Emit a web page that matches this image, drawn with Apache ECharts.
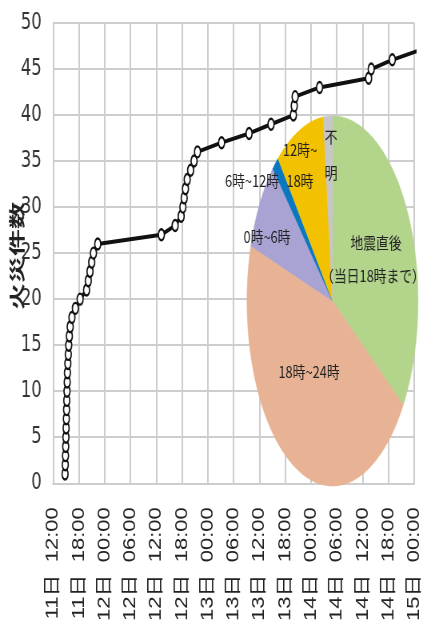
<!DOCTYPE html>
<html>
<head>
<meta charset="utf-8">
<script src="https://cdn.jsdelivr.net/npm/echarts@6/dist/echarts.min.js"></script>
<style>
html,body{margin:0;padding:0;background:#fff;overflow:hidden;}
#main{position:absolute;left:0;top:0;width:529px;height:624px;transform:scaleX(0.7996);transform-origin:0 0;}
</style>
</head>
<body>
<div id="main"></div>
<script>
// ---- data ----
// time of each fire, hours counted from 11日 00:00
const fireHours = [14.8,14.85,14.9,14.95,15.0,15.05,15.1,15.15,15.2,15.25,15.3,15.35,15.45,15.55,15.65,15.8,16.0,16.4,17.2,18.3,
  19.8,20.2,20.6,21.0,21.4,22.4,37.2,40.4,41.8,42.2,42.5,42.8,43.2,44.0,44.8,45.6,51.2,57.6,62.7,67.9,68.1,68.3,74.0,85.4,86.0,90.9,97.0];
// cumulative number of fires
const fireCounts = [1,2,3,4,5,6,7,8,9,10,11,12,13,14,15,16,17,18,19,20,21,22,23,24,25,26,27,28,29,30,31,32,33,34,35,36,37,38,39,40,41,42,43,44,45,46,47];
const xTickLabels = ['11日  12:00','11日  18:00','12日  00:00','12日  06:00','12日  12:00','12日  18:00','13日  00:00','13日  06:00',
  '13日  12:00','13日  18:00','14日  00:00','14日  06:00','14日  12:00','14日  18:00','15日  00:00'];
const yAxisTitle = '火災件数';
// pie: share of fires by time band (clockwise from top)
const pieNames = ['地震直後（当日18時まで）','18時~24時','0時~6時','6時~12時','12時~18時','不明'];
const pieValues = [34.5, 45.3, 7.9, 1.3, 9.3, 1.7];
const pieColors = ['#b2d48b','#e8b394','#a9a3d4','#0a78c0','#f2c200','#c6c6c6'];
const pieLabelTexts = ['地震直後','（当日18時まで）','18時~24時','0時~6時','6時~12時','12時~','18時','不\n明'];

// ---- layout ----
const S = 0.7996;                 // horizontal squeeze of the whole picture
const X = px => px / S;           // screen x -> local x
const PCX = X(332.5), PCY = 301, PRX = 85.5 / S, PRY = 185;
const labelPos = [[376,243],[373,276],[309,372],[267,237],[252,181],[300,150],[300,181],[331,155]];

const pieTotal = pieValues.reduce((a, b) => a + b, 0);
const pieCum = [];
pieValues.reduce((acc, v) => { pieCum.push(acc); return acc + v; }, 0);

const chart = echarts.init(document.getElementById('main'), null, {renderer: 'canvas'});
const gridColor = '#cdcdcd';

const graphics = pieLabelTexts.map((t, i) => ({
  type: 'text', z: 100, x: X(labelPos[i][0]), y: labelPos[i][1],
  style: {text: t, fill: '#222', font: '16px "Noto Sans CJK JP"', align: 'center', verticalAlign: 'middle', lineHeight: 36}
}));
graphics.push({
  type: 'text', z: 100, x: X(17), y: 256, rotation: Math.PI / 2, scaleY: 0.75,
  style: {text: yAxisTitle, fill: '#222', font: 'bold 27px "Noto Sans CJK JP"', align: 'center', verticalAlign: 'middle'}
});

chart.setOption({
  backgroundColor: '#fff',
  animation: false,
  grid: {left: X(53), right: 529 - X(419), top: 23, bottom: 624 - 487, containLabel: false},
  xAxis: {
    type: 'value', min: 12, max: 96, interval: 6,
    axisLine: {show: true, lineStyle: {color: gridColor, width: 2}},
    axisTick: {show: false},
    splitLine: {show: true, lineStyle: {color: gridColor, width: 2}},
    axisLabel: {
      rotate: 90, margin: 24, color: '#222', fontSize: 22,
      fontFamily: '"Liberation Sans", "Noto Sans CJK JP", sans-serif',
      formatter: v => xTickLabels[Math.round((v - 12) / 6)] || ''
    }
  },
  yAxis: {
    type: 'value', min: 0, max: 50, interval: 5,
    axisLine: {show: true, lineStyle: {color: gridColor, width: 2}},
    axisTick: {show: false},
    splitLine: {show: true, lineStyle: {color: gridColor, width: 2}},
    axisLabel: {margin: 14, color: '#333', fontSize: 23, fontFamily: '"Liberation Sans Narrow", "DejaVu Sans Condensed", sans-serif'}
  },
  graphic: graphics,
  series: [
    {
      type: 'custom', coordinateSystem: 'none', z: 5, silent: true,
      data: pieValues.map((v, i) => [i, v]),
      renderItem: (params, api) => {
        const i = params.dataIndex;
        const v = api.value(1);
        const a0 = pieCum[i] / pieTotal * 2 * Math.PI;
        const a1 = (pieCum[i] + v) / pieTotal * 2 * Math.PI;
        const n = Math.max(2, Math.ceil((a1 - a0) / 0.01));
        const pts = [[PCX, PCY]];
        for (let k = 0; k <= n; k++) {
          const a = a0 + (a1 - a0) * k / n;
          pts.push([PCX + PRX * Math.sin(a), PCY - PRY * Math.cos(a)]);
        }
        return {type: 'polygon', shape: {points: pts}, style: {fill: pieColors[i], stroke: pieColors[i], lineWidth: 0.6}};
      }
    },
    {
      type: 'line', z: 10,
      data: fireHours.map((h, i) => [h, fireCounts[i]]),
      symbol: 'emptyCircle', symbolSize: [7.5, 11],
      showAllSymbol: true,
      itemStyle: {color: '#111', borderWidth: 1.3},
      lineStyle: {color: '#111', width: 4, type: 'solid'},
      clip: true
    }
  ]
});
</script>
</body>
</html>
